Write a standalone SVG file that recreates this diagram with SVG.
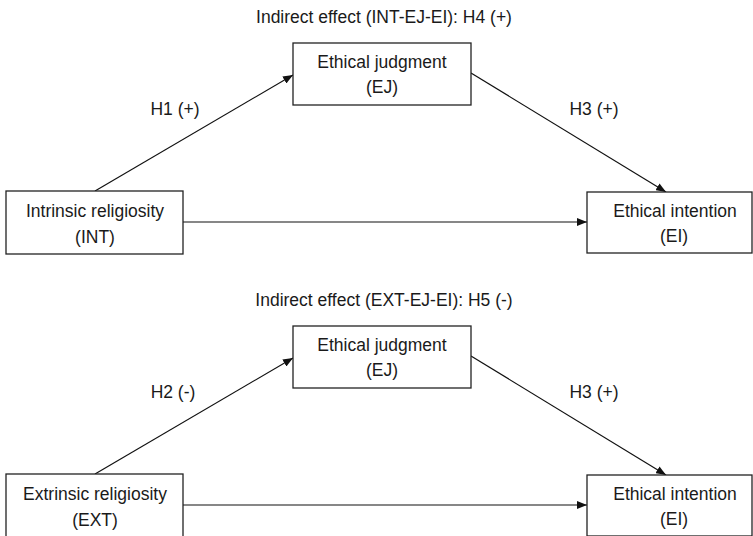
<svg xmlns="http://www.w3.org/2000/svg" width="753" height="536" viewBox="0 0 753 536">
<style>
.box{fill:#fff;stroke:#222;stroke-width:1.3}
.t{font-family:"Liberation Sans",Arial,sans-serif;font-size:17.5px;fill:#1a1a1a;text-anchor:middle}
.c{stroke:#111;stroke-width:1.2;fill:none;marker-end:url(#ah)}
</style>
<defs>
<marker id="ah" viewBox="0 0 10 8" refX="10" refY="4" markerWidth="10" markerHeight="8" markerUnits="userSpaceOnUse" orient="auto">
<path d="M0,0 L10,4 L0,8 Z" fill="#111"/>
</marker>
</defs>
<rect width="753" height="536" fill="#fff"/>
<text class="t" x="384" y="23">Indirect effect (INT-EJ-EI): H4 (+)</text>
<text class="t" x="384" y="306">Indirect effect (EXT-EJ-EI): H5 (-)</text>
<g id="connectors">
<line class="c" x1="95" y1="191" x2="293" y2="75"/>
<line class="c" x1="471" y1="73" x2="666" y2="192"/>
<line class="c" x1="183" y1="222" x2="587" y2="222"/>
<line class="c" x1="95" y1="474" x2="293" y2="358"/>
<line class="c" x1="471" y1="356" x2="666" y2="475"/>
<line class="c" x1="183" y1="505" x2="587" y2="505"/>
<text class="t" x="175" y="115">H1 (+)</text>
<text class="t" x="594" y="115">H3 (+)</text>
<text class="t" x="173" y="398">H2 (-)</text>
<text class="t" x="594" y="398">H3 (+)</text>
</g>
<g id="ej1">
<rect class="box" x="293" y="43" width="178" height="62"/>
<text class="t" x="382" y="68">Ethical judgment</text>
<text class="t" x="382" y="93">(EJ)</text>
</g>
<g id="int">
<rect class="box" x="6" y="191" width="177" height="63"/>
<text class="t" x="95" y="217">Intrinsic religiosity</text>
<text class="t" x="95" y="243">(INT)</text>
</g>
<g id="ei1">
<rect class="box" x="587" y="192" width="165" height="61"/>
<text class="t" x="675" y="217">Ethical intention</text>
<text class="t" x="674" y="242">(EI)</text>
</g>
<g id="ej2">
<rect class="box" x="293" y="326" width="178" height="62"/>
<text class="t" x="382" y="351">Ethical judgment</text>
<text class="t" x="382" y="376">(EJ)</text>
</g>
<g id="ext">
<rect class="box" x="6" y="474" width="177" height="63"/>
<text class="t" x="95" y="500">Extrinsic religiosity</text>
<text class="t" x="95" y="526">(EXT)</text>
</g>
<g id="ei2">
<rect class="box" x="587" y="475" width="165" height="61"/>
<text class="t" x="675" y="500">Ethical intention</text>
<text class="t" x="674" y="525">(EI)</text>
</g>
</svg>
